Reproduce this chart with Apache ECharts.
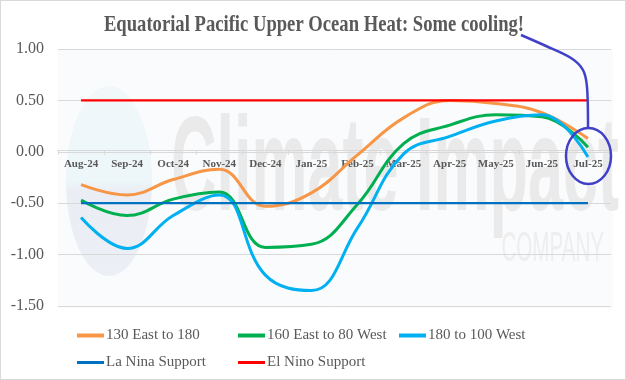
<!DOCTYPE html>
<html>
<head>
<meta charset="utf-8">
<script src="https://cdn.jsdelivr.net/npm/echarts@6/dist/echarts.min.js"></script>
<style>
html,body{margin:0;padding:0;background:#fff;}
#c{width:626px;height:380px;box-sizing:border-box;border:1px solid #d9d9d9;}
</style>
</head>
<body>
<div id="c"></div>
<script>
var categories = ['Aug-24','Sep-24','Oct-24','Nov-24','Dec-24','Jan-25','Feb-25','Mar-25','Apr-25','May-25','Jun-25','Jul-25'];
var east130to180 = [-0.32,-0.42,-0.27,-0.17,-0.53,-0.40,-0.03,0.33,0.50,0.47,0.38,0.13];
var east160to80west = [-0.47,-0.62,-0.46,-0.39,-0.93,-0.90,-0.51,0.08,0.26,0.36,0.34,0.045];
var w180to100west = [-0.64,-0.94,-0.62,-0.42,-1.20,-1.35,-0.74,-0.02,0.15,0.30,0.36,-0.05];
var laNina = [-0.5,-0.5,-0.5,-0.5,-0.5,-0.5,-0.5,-0.5,-0.5,-0.5,-0.5,-0.5];
var elNino = [0.5,0.5,0.5,0.5,0.5,0.5,0.5,0.5,0.5,0.5,0.5,0.5];
var seriesNames = ['130 East to 180','160 East to 80 West','180 to 100 West','La Nina Support','El Nino Support'];
var titleText = 'Equatorial Pacific Upper Ocean Heat: Some cooling!';
var yMin = -1.5, yMax = 1.0, yStep = 0.5;

var colors = ['#F79646','#00B050','#00B0F0','#0070C0','#FF0000'];
var serif = '"Liberation Serif","Times New Roman",serif';
var txt = '#595959';

var GRID = {left:57, right:14, top:48, bottom:73};
var plotH = 380 - GRID.top - GRID.bottom;
var zeroOffset = -(plotH * (0 - yMin) / (yMax - yMin));

var chart = echarts.init(document.getElementById('c'));

function mkLegend(name, left, top, h, color){
  return {
    data:[name], left:left, top:top, orient:'horizontal',
    icon:'rect', itemWidth:27, itemHeight:h, itemGap:0,
    padding:0,
    itemStyle:{color:color},
    textStyle:{fontFamily:serif, fontSize:15, color:txt, padding:[0,0,0,-3]}
  };
}

var dataSets = [east130to180, east160to80west, w180to100west, laNina, elNino];
var widths = [3,3,3,2.2,2.2];

chart.setOption({
  animation:false,
  graphic:[
    {type:'rect', z:-5, shape:{x:57,y:48,width:555,height:259}, style:{fill:'#fafbfc'}, silent:true},
    {type:'ellipse', z:-4, shape:{cx:108,cy:180,rx:43,ry:95},
      style:{fill:{type:'linear',x:0,y:0,x2:0,y2:1,colorStops:[
        {offset:0,color:'#f0f8fa'},{offset:0.5,color:'#edf6f8'},{offset:0.55,color:'#eaeef4'},{offset:1,color:'#eceff5'}]}}, silent:true},
    {type:'text', z:-4, x:170, y:172, scaleX:0.47, scaleY:1,
      style:{text:'Climate Impact', font:'bold 134px "Liberation Sans", Arial, sans-serif', fill:'#eaeaeb', verticalAlign:'middle', align:'left'}, silent:true},
    {type:'text', z:-4, x:603, y:248, scaleX:0.49, scaleY:1,
      style:{text:'COMPANY', font:'42px "Liberation Sans", Arial, sans-serif', fill:'#eeeeef', verticalAlign:'middle', align:'right'}, silent:true},
    {type:'text', z:50, x:313, y:24.5, scaleX:0.81, scaleY:1,
      style:{text:titleText, font:'bold 23px "Liberation Serif", "Times New Roman", serif', fill:txt, verticalAlign:'middle', align:'center'}, silent:true},
    {type:'polyline', z:100, shape:{points:[[520,34],[545,45],[570,57],[582,69],[586,86],[587,127]], smooth:0.3},
      style:{stroke:'#4040c8', lineWidth:2.5, fill:null}, silent:true},
    {type:'ellipse', z:100, shape:{cx:587.5,cy:155,rx:22.5,ry:28},
      style:{stroke:'#4040c8', lineWidth:2.5, fill:null}, silent:true}
  ],
  legend:[
    mkLegend(seriesNames[0], 76, 327, 4, colors[0]),
    mkLegend(seriesNames[1], 237, 327, 4, colors[1]),
    mkLegend(seriesNames[2], 398, 327, 4, colors[2]),
    mkLegend(seriesNames[3], 76, 354, 3, colors[3]),
    mkLegend(seriesNames[4], 237, 354, 3, colors[4])
  ],
  grid:{left:GRID.left, right:GRID.right, top:GRID.top, bottom:GRID.bottom, containLabel:false},
  xAxis:{
    type:'category', data:categories, boundaryGap:true, position:'bottom', offset:zeroOffset,
    axisLine:{onZero:false, lineStyle:{color:'#d9d9d9', width:1}},
    axisTick:{show:true, length:4, lineStyle:{color:'#d9d9d9'}},
    axisLabel:{interval:0, margin:8, fontFamily:serif, fontSize:11, fontWeight:'bold', color:txt},
    splitLine:{show:false}
  },
  yAxis:{
    type:'value', min:yMin, max:yMax, interval:yStep,
    axisLine:{show:false}, axisTick:{show:false},
    axisLabel:{margin:14, fontFamily:serif, fontSize:16, color:txt, formatter:function(v){return v.toFixed(2);}},
    splitLine:{lineStyle:{color:'#d9d9d9', width:1}}
  },
  series: seriesNames.map(function(n,i){
    return {
      name:n, type:'line', data:dataSets[i],
      smooth: i<3 ? 0.42 : false,
      showSymbol:false, symbol:'none',
      lineStyle:{color:colors[i], width:widths[i]},
      itemStyle:{color:colors[i]},
      z: 2+i
    };
  })
});
</script>
</body>
</html>
